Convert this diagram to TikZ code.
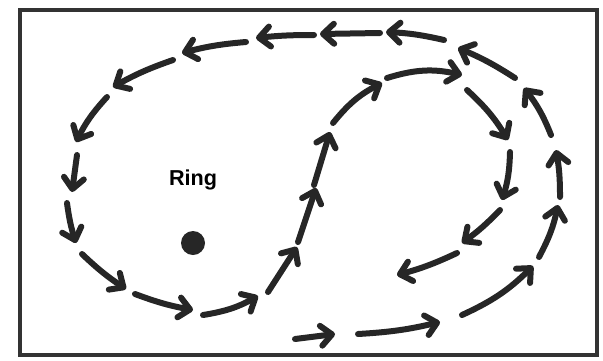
\documentclass[tikz,border=0pt]{standalone}
\usepackage{fontspec}
\setmainfont{Liberation Sans}
\usepackage{xcolor}
\usepackage{tikz}
\usetikzlibrary{arrows.meta}

\begin{document}
\begin{tikzpicture}[
		x=0.5pt, y=0.5pt,
		font=\fontsize{10.8}{12}\selectfont\bfseries,
		frame/.style={draw=black!80, line width=2.4pt},
		trail/.style={draw=black!85, line width=3pt, line cap=round,
			-{Straight Barb[length=5.5pt, width=10pt, round]}},
		marker/.style={circle, fill=black!85, inner sep=0pt, minimum size=12pt}
		]
		\useasboundingbox (0,0) rectangle (603,360);
		
		% Arena frame
		\draw[frame] (20,5) rectangle (597,350);
		
		% Ring position
		\node (ring) at (193,180) {Ring};
		\node[marker] (dot) at (193,117) {};
		
		% Outer track: bottom row, right side, top row, left loop
		\foreach \ax/\ay/\bx/\by/\bend in {
				295/21/335/26/0,
				358/26/440/38/5,
				462/45/533/94/10,
				539/103/558/155/8,
				560/163/556/210/5,
				551/225/524/272/8,
				515/282/458/312/5,
				444/320/386/328/5,
				380/327/320/326/0,
				314/325/256/322/3,
				246/318/182/307/5,
				173/300/113/273/5,
				107/263/76/218/8,
				77/205/72/168/0,
				67/157/76/117/5,
				82/106/126/71/5,
				135/66/193/50/5,
				203/45/258/64/10,
				268/68/297/113/0,
				298/118/316/172/0,
				314/175/330/228/0}
			\draw[trail] (\ax,\ay) to[bend right=\bend] (\bx,\by);
		
		% Inner loop on the right
		\foreach \ax/\ay/\bx/\by/\bend in {
				333/237/382/277/12,
				387/282/462/285/15,
				467/270/508/220/8,
				510/208/502/160/8,
				500/150/462/117/5,
				457/107/397/85/5}
			\draw[trail] (\ax,\ay) to[bend left=\bend] (\bx,\by);
	\end{tikzpicture}
\end{document}
